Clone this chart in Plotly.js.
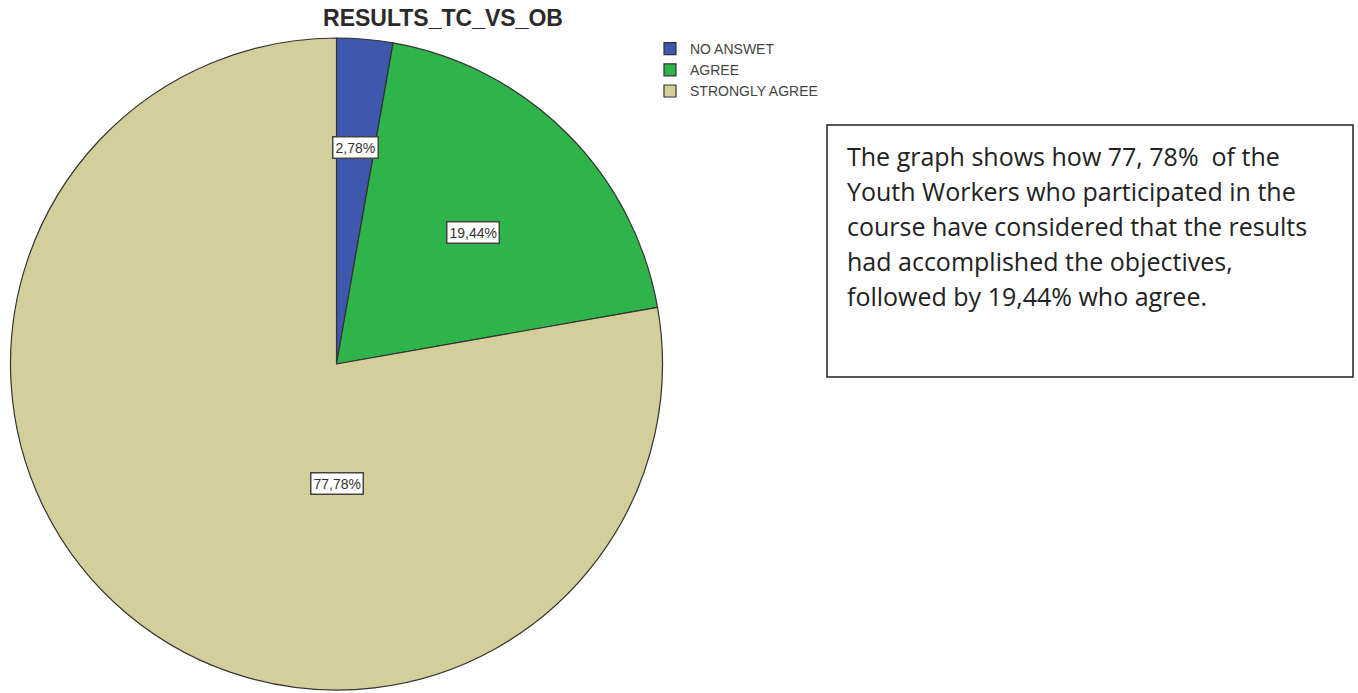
<!DOCTYPE html>
<html>
<head>
<meta charset="utf-8">
<script src="https://cdn.plot.ly/plotly-3.0.1.min.js"></script>
<style>
  html, body { margin: 0; padding: 0; background: #ffffff; }
  #chart { width: 1358px; height: 693px; }
</style>
</head>
<body>
<div id="chart"></div>
<script>
// ---- data ----
const categories = ['NO ANSWET', 'AGREE', 'STRONGLY AGREE'];
const counts = [1, 7, 28];
const sliceColors = ['#3E58AE', '#2EB44B', '#D4CE9A'];
const chartTitle = 'RESULTS_TC_VS_OB';
const noteLines = [
  'The graph shows how 77, 78%\u00a0 of the',
  'Youth Workers who participated in the',
  'course have considered that the results',
  'had accomplished the objectives,',
  'followed by 19,44% who agree.'
];

// ---- layout constants (pixels) ----
const W = 1358, H = 693;
const cx = 336.5, cy = 364, R = 326;
// label box centres for each slice (pixel positions)
const labelPos = [[355, 148], [473, 232], [337, 483]];
const noteBox = {x0: 827, x1: 1353, y0: 125, y1: 377};
const noteX = 845, noteY0 = 156, noteDy = 35;

const px = x => x / W;
const py = y => 1 - y / H;

const total = counts.reduce((a, b) => a + b, 0);
const pctText = counts.map(c => (c / total * 100).toFixed(2).replace('.', ',') + '%');

const trace = {
  type: 'pie',
  labels: categories,
  values: counts,
  sort: false,
  direction: 'clockwise',
  rotation: 0,
  marker: { colors: sliceColors, line: { color: '#333333', width: 1.2 } },
  textinfo: 'none',
  hoverinfo: 'label+percent',
  domain: { x: [px(cx - R), px(cx + R)], y: [py(cy + R), py(cy - R)] }
};

const annotations = pctText.map((t, i) => ({
  text: t,
  x: px(labelPos[i][0]), y: py(labelPos[i][1]),
  xref: 'paper', yref: 'paper',
  xanchor: 'center', yanchor: 'middle',
  showarrow: false,
  font: { family: 'Liberation Sans, Arial, sans-serif', size: 14, color: '#333333' },
  bgcolor: '#ffffff',
  bordercolor: '#444444',
  borderwidth: 1.5,
  borderpad: 2
}));

noteLines.forEach((line, i) => {
  annotations.push({
    text: line,
    x: px(noteX), y: py(noteY0 + i * noteDy),
    xref: 'paper', yref: 'paper',
    xanchor: 'left', yanchor: 'middle',
    showarrow: false,
    font: { family: 'Open Sans, sans-serif', size: 25, color: '#222222' }
  });
});

const layout = {
  width: W, height: H,
  margin: { l: 0, r: 0, t: 0, b: 0 },
  paper_bgcolor: '#ffffff',
  plot_bgcolor: '#ffffff',
  title: {
    text: chartTitle,
    x: px(443), xref: 'paper', xanchor: 'center',
    y: 1 - 18 / H, yref: 'container', yanchor: 'middle',
    font: { family: 'Liberation Sans, Arial, sans-serif', size: 23, color: '#2a2a2a', weight: 'bold' }
  },
  showlegend: true,
  legend: {
    x: px(650), xanchor: 'left',
    y: py(33), yanchor: 'top',
    font: { family: 'Liberation Sans, Arial, sans-serif', size: 14, color: '#444444' },
    bgcolor: 'rgba(0,0,0,0)',
    traceorder: 'normal'
  },
  shapes: [{
    type: 'rect', xref: 'paper', yref: 'paper',
    x0: px(noteBox.x0), x1: px(noteBox.x1),
    y0: py(noteBox.y1), y1: py(noteBox.y0),
    line: { color: '#222222', width: 1.5 },
    fillcolor: 'rgba(0,0,0,0)'
  }],
  annotations: annotations
};

Plotly.newPlot('chart', [trace], layout, { displayModeBar: false, staticPlot: true });
</script>
</body>
</html>
